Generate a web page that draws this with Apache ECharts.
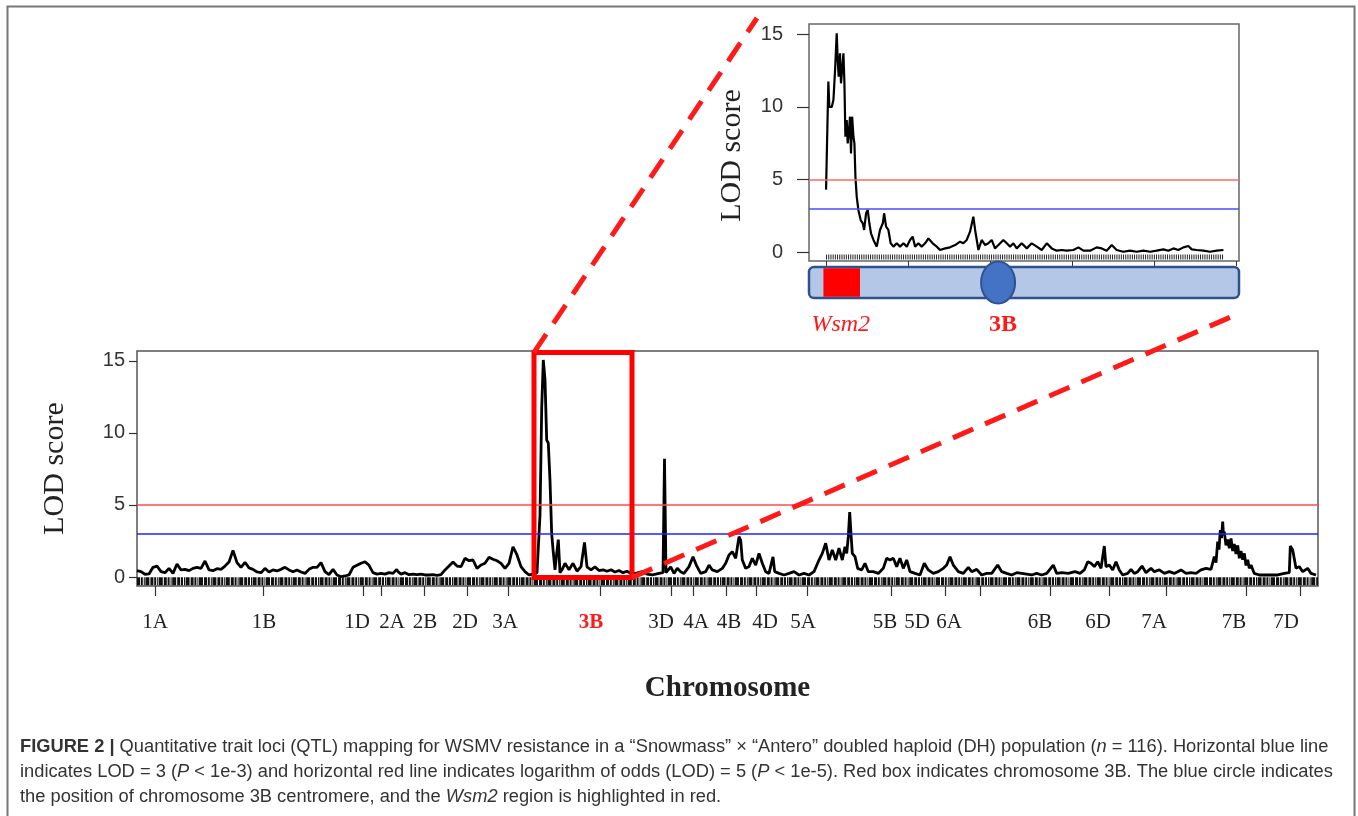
<!DOCTYPE html>
<html><head><meta charset="utf-8">
<script src="https://cdn.jsdelivr.net/npm/echarts@6/dist/echarts.min.js"></script>
<style>html,body{margin:0;padding:0;background:#fff}#c{width:1358px;height:816px}</style>
</head><body><div id="c"></div>
<script>
// ---------- data ----------
const chromNames = ['1A','1B','1D','2A','2B','2D','3A','3B','3D','4A','4B','4D','5A','5B','5D','6A','6B','6D','7A','7B','7D'];
const chromLabelPos = [18,127,220,255,288,328,368,454,524,559,592,628,666,748,780,812,903,961,1017,1097,1149];
const chromTickPos = [18,126,226,244,287,330,371,463,534,556,589,619,670,754,808,843,913,972,1029,1109,1163];
const lodTicks = [0, 5, 10, 15];
const thresholdRed = 5;
const thresholdBlue = 3;
const genomeLength = 1181;
const box3B = [397, 495];        // genome positions framed by the red box
const box3BLod = [-0.03, 15.59];
// genome-wide scan: [position, LOD]
const genomeScan = [
[0,0.44],[4,0.37],[8,0.19],[12,0.21],[16,0.67],[20,0.76],[24,0.37],[28,0.3],[32,0.6],[36,0.25],[40,0.9],[44,0.49],[48,0.53],[52,0.44],[56,0.6],[60,0.67],[64,0.6],[68,1.11],[72,0.49],[76,0.44],[80,0.58],[84,0.53],[88,0.76],[92,1.04],[96,1.85],[100,1.0],[104,0.67],[108,1.02],[112,0.63],[116,0.53],[120,0.35],[124,0.3],[128,0.6],[132,0.35],[136,0.49],[140,0.42],[144,0.53],[148,0.67],[152,0.49],[156,0.37],[160,0.49],[164,0.35],[168,0.25],[172,0.53],[176,0.67],[180,0.67],[184,1.0],[188,0.37],[192,0.16],[196,0.53],[200,0.14],[204,0.02],[208,0.07],[212,0.14],[216,0.67],[220,0.81],[224,0.95],[228,1.06],[232,0.81],
[236,0.3],[240,0.2],[244,0.25],[248,0.2],[252,0.3],[256,0.25],[259.7,0.53],[261,0.37],[264,0.2],[268,0.3],[272,0.16],[276,0.2],[280,0.16],[284,0.2],[288,0.14],[292,0.14],[296,0.16],[300,0.12],[304,0.16],[308,0.49],[312,0.76],[316,1.04],[320,0.76],[324,0.72],[328,1.3],[332,1.13],[336,1.18],[340,0.6],[344,0.83],[348,0.95],[352,1.37],[356,1.23],[360,1.13],[364,0.95],[368,0.6],[372,0.95],[376,2.1],[380,1.53],[384,0.72],[388,0.37],[392,0.14],[396,0.2],[400,0.3],[402,0.4],
[403,4.3],[404.7,11.7],[406.3,15.07],[408,13.7],[409.7,9.5],[411.3,9.3],[413,6.7],[414.7,3.0],[416.3,1.7],[418,0.5],[419.5,1.5],[421.3,2.6],[423,0.3],
[425,0.5],[428,0.95],[432,0.5],[436,0.95],[440,0.4],[444,0.72],[447.5,2.4],[450,0.7],[454,0.5],[458,0.7],[462,0.45],[466,0.5],[470,0.4],[474,0.5],[478,0.35],[482,0.45],[486,0.3],[490,0.4],[494,0.25],
[498.7,0.25],[505.3,0.37],[510,0.2],[515.3,0.14],[522,0.25],[526,0.3],[527.5,8.2],[529,0.3],[533.7,0.7],[537,0.25],[540.3,0.6],[543.7,0.37],[547,0.25],[552,0.72],[556,1.4],[559.3,0.83],[563.7,0.25],[568.7,0.37],[572,0.83],[575.3,0.49],[580.3,0.37],[585.3,0.6],[588.7,0.95],[592,1.53],[595.3,1.76],[598.7,1.3],[602,2.8],[603.7,2.55],[605.3,1.18],[608.7,0.6],[612,0.72],[615.3,1.3],[618.7,0.83],[622,1.64],[625.3,0.95],[628.7,0.37],[632,0.25],[636,1.4],[637.7,0.37],[642,0.25],[647,0.14],[652,0.25],[657,0.37],[662,0.14],[667,0.25],[672,0.14],[677,0.37],[682,1.18],[685.3,1.64],[688.7,2.34],[692,1.18],[695.3,1.87],[698.7,1.18],[702,2.0],[705.3,1.18],
[708,2.1],[709.7,1.64],[711.3,2.8],[712.7,4.5],[714,3.0],[715.3,1.64],[718,1.41],[720.7,0.6],[724.7,0.49],[728,0.95],[731.3,0.37],[736.3,0.37],[741.3,0.25],[746.3,0.6],[749.7,1.3],[753,1.18],[756.3,1.3],[759.7,0.72],[763,1.3],[766.3,0.6],[769.7,1.18],[773,0.37],[778,0.25],[783,0.14],[787.3,0.95],[791.3,0.49],[796.3,0.25],[801.3,0.37],[806.3,0.6],[809.7,0.83],[813,1.41],[816.3,0.83],[821.3,0.37],[826.3,0.25],[831.3,0.67],[834.7,0.37],[839.7,0.53],[844.7,0.14],[849.7,0.25],[854.7,0.25],[860.7,0.83],[864.7,0.37],[869.7,0.25],[874.7,0.14],[879.7,0.3],[884.7,0.25],[889.7,0.2],[894.7,0.14],[899.7,0.25],[904.7,0.14],[909.7,0.25],[916.3,0.83],[919.7,0.25],[924.7,0.3],[931.3,0.25],[938,0.37],[943,0.25],
[947.3,0.49],[950.7,1.06],[954,0.95],[957.3,0.72],[960.7,1.06],[964,0.6],[967.3,2.15],[969,0.72],[972.3,0.83],[975.7,0.49],[979,1.06],[982.3,0.49],[985.7,0.14],[990.7,0.25],[994,0.53],[997.3,0.25],[1000.7,0.37],[1005,0.76],[1009,0.3],[1014,0.6],[1017.3,0.37],[1022.3,0.49],[1027.3,0.25],[1032.3,0.37],[1037.3,0.25],[1044,0.49],[1049,0.25],[1054,0.3],[1059,0.25],[1064,0.49],[1069,0.6],[1074,0.53],
[1077.3,1.41],[1079,1.0],[1080.7,2.45],[1082,1.9],[1083.3,3.26],[1084.5,2.7],[1085.7,3.84],[1086.5,2.9],[1087.3,3.15],[1089,2.2],[1090.7,2.6],[1092.3,2.0],[1094,2.68],[1095.7,1.8],[1097.3,2.3],[1099,1.6],[1100.7,2.2],[1102.3,1.3],[1104,1.8],[1105.7,1.2],[1107.3,1.64],[1109,0.8],[1110.7,1.2],[1112.3,0.6],[1114,0.83],[1117.3,0.25],
[1122.3,0.14],[1127.3,0.14],[1134,0.14],[1140.7,0.14],[1147.3,0.25],[1152.3,0.3],[1153.3,2.15],[1155.7,1.87],[1159,0.6],[1162.3,0.72],[1165.7,0.37],[1170.7,0.6],[1174,0.25],[1179,0.14]
];
// chromosome 3B scan (inset): [position, LOD]
const chr3BScan = [
[0,4.3],[1.4,11.75],[2.0,10.0],[3.5,10.0],[4.5,10.5],[5.5,12.55],[6.5,15.08],[7.1,13.24],[7.7,12.09],[8.5,13.7],[9.1,11.63],[9.8,12.55],[10.6,13.7],[11.2,11.63],[11.8,7.95],[12.6,9.1],[13.2,7.49],[14.0,8.41],[14.6,9.33],[15.2,6.8],[15.9,9.33],[16.7,7.95],[17.3,7.49],[17.9,5.2],[18.7,3.82],[19.7,2.9],[21.1,2.2],[22.4,1.98],[23.2,1.52],[24.4,2.67],[25.4,2.9],[26.4,1.98],[27.4,1.29],[28.9,0.83],[30.9,0.37],[32.9,1.52],[34.6,1.98],[35.4,2.67],[36.6,1.75],[38.0,1.52],[39.4,0.6],[41.1,0.37],[43.1,0.6],[45.1,0.37],[47.2,0.6],[49.2,0.37],[51.2,0.83],[52.8,1.06],[54.3,0.37],[56.3,0.6],[58.3,0.37],[60.4,0.6],[62.4,0.94],[63.4,1.06],[65.0,0.6],[67.5,0.37],[69.5,0.14],[72.6,0.25],[75.6,0.32],[78.7,0.48],[81.7,0.71],[83.7,0.6],[85.8,0.83],[87.8,1.4],[89.8,2.44],[90.9,1.52],[91.9,0.83],[92.9,0.14],[94.9,0.83],[97.0,0.48],[99.0,0.6],[101.0,0.83],[103.0,0.25],[105.1,0.48],[108.1,0.83],[110.2,0.6],[112.2,0.37],[114.2,0.6],[116.3,0.25],[119.3,0.6],[122.4,0.25],[125.4,0.6],[128.5,0.37],[131.5,0.14],[134.6,0.6],[137.6,0.25],[140.7,0.09],[143.7,0.14],[146.7,0.09],[150.8,0.14],[153.9,0.32],[156.9,0.09],[161.0,0.09],[165.0,0.32],[168.1,0.25],[171.1,0.09],[174.2,0.48],[177.2,0.14],[181.3,0.02],[185.4,0.09],[189.4,0.02],[193.5,0.09],[197.6,0.02],[201.6,0.09],[205.7,0.18],[208.7,0.09],[211.8,0.25],[214.8,0.14],[217.9,0.32],[220.9,0.41],[223.0,0.18],[226.0,0.14],[230.1,0.09],[234.1,0.02],[238.2,0.09],[242.3,0.14]
];
const chr3BTicks = [0, 50, 100, 150, 200, 250];
const wsm2Region = [-1.6, 20.7];
const centromere3B = 104.9;

// ---------- chart ----------
const chart = echarts.init(document.getElementById('c'), null, {renderer: 'canvas'});
const serif = 'Liberation Serif';
const sans = 'Liberation Sans';

function lodYAxis(grid, min, max, gap, pad) {
  return {
    gridIndex: grid, type: 'value', min: min, max: max,
    axisLine: {show: false, onZero: false}, splitLine: {show: false},
    axisTick: {show: true, customValues: lodTicks, length: grid === 0 ? 8 : 12, lineStyle: {color: '#333', width: 1.2}},
    axisLabel: {customValues: lodTicks, margin: grid === 0 ? 12 : 26, fontFamily: sans, fontSize: 20, color: '#333'},
    name: 'LOD score', nameLocation: 'middle', nameRotate: 90, nameGap: gap, nameMoveOverlap: false,
    nameTextStyle: {fontFamily: serif, fontSize: 30, color: '#222', padding: pad}
  };
}

chart.setOption({
  animation: false,
  backgroundColor: '#fff',
  grid: [
    {left: 137, right: 40, top: 351, bottom: 230, show: true, borderColor: '#555', borderWidth: 1.5},
    {left: 809, right: 119, top: 24, bottom: 555, show: true, borderColor: '#666', borderWidth: 1.5}
  ],
  xAxis: [
    {gridIndex: 0, type: 'value', min: 0, max: genomeLength,
     axisLine: {show: false, onZero: false}, splitLine: {show: false},
     axisTick: {show: true, customValues: chromTickPos, length: 10, lineStyle: {color: '#333', width: 1.2}},
     axisLabel: {customValues: chromLabelPos, margin: 26, fontFamily: serif, fontSize: 21, color: '#222',
       formatter: function (v) {
         const i = chromLabelPos.indexOf(v);
         const n = i >= 0 ? chromNames[i] : '';
         return n === '3B' ? '{r|' + n + '}' : n;
       },
       rich: {r: {fontFamily: serif, fontSize: 21, fontWeight: 'bold', color: '#ff1a1a'}}},
     name: 'Chromosome', nameLocation: 'middle', nameGap: 88, nameMoveOverlap: false,
     nameTextStyle: {fontFamily: serif, fontSize: 29, fontWeight: 'bold', color: '#222'}},
    {gridIndex: 1, type: 'value', min: -10.4, max: 251.8,
     axisLine: {show: false, onZero: false}, splitLine: {show: false},
     axisTick: {show: true, customValues: chr3BTicks, length: 5, lineStyle: {color: '#333'}},
     axisLabel: {show: false}}
  ],
  yAxis: [lodYAxis(0, -0.625, 15.69, 67, [0, 0, 0, 0]), lodYAxis(1, -0.62, 15.72, 62, [0, 26, 0, 0])],
  series: [
    {type: 'line', xAxisIndex: 0, yAxisIndex: 0, data: [[0, -0.3], [genomeLength, -0.3]],
     symbol: 'none', silent: true, z: 1,
     lineStyle: {color: '#111', width: 8, type: [3, 0.8, 2, 1, 1, 0.6, 4, 1]}},
    {type: 'line', xAxisIndex: 0, yAxisIndex: 0, data: genomeScan, symbol: 'none',
     lineStyle: {color: '#000', width: 2.8}, z: 3,
     markLine: {silent: true, symbol: 'none', label: {show: false},
       data: [
         {yAxis: thresholdRed, lineStyle: {color: '#ff4a4a', width: 1.6, type: 'solid'}},
         {yAxis: thresholdBlue, lineStyle: {color: '#2222ff', width: 1.6, type: 'solid'}}
       ]},
     markArea: {silent: true, z: 10, itemStyle: {color: 'rgba(0,0,0,0)', borderColor: '#ff0000', borderWidth: 5},
       data: [[{xAxis: box3B[0], yAxis: box3BLod[0]}, {xAxis: box3B[1], yAxis: box3BLod[1]}]]}},
    {type: 'line', xAxisIndex: 1, yAxisIndex: 1, data: [[chr3BScan[0][0], -0.35], [chr3BScan[chr3BScan.length - 1][0], -0.35]],
     symbol: 'none', silent: true, z: 1,
     lineStyle: {color: '#222', width: 5, type: [1, 1.2]}},
    {type: 'line', xAxisIndex: 1, yAxisIndex: 1, data: chr3BScan, symbol: 'none',
     lineStyle: {color: '#000', width: 2.2}, z: 3,
     markLine: {silent: true, symbol: 'none', label: {show: false},
       data: [
         {yAxis: thresholdRed, lineStyle: {color: '#ff6a6a', width: 1.6, type: 'solid'}},
         {yAxis: thresholdBlue, lineStyle: {color: '#4a4aff', width: 1.6, type: 'solid'}}
       ]}}
  ]
});

// ---------- annotations ----------
const m = (x, y) => chart.convertToPixel({gridIndex: 0}, [x, y]);
const s = (x, y) => chart.convertToPixel({gridIndex: 1}, [x, y]);
const boxTL = m(box3B[0], box3BLod[1]);
const boxBR = m(box3B[1], box3BLod[0]);
const gridL = s(-10.4, 0)[0], gridR = s(251.8, 0)[0];
const barTop = 267, barH = 31;
const wL = s(wsm2Region[0], 0)[0], wR = s(wsm2Region[1], 0)[0];
const cen = s(centromere3B, 0)[0];
const dash = {stroke: '#ff1a1a', lineWidth: 5, lineDash: [22, 13]};
const cf = 18.3;
const capStyle = {fontFamily: sans, fontSize: cf, fill: '#333',
  rich: {b: {fontFamily: sans, fontSize: cf, fontWeight: 'bold', fill: '#333'},
         i: {fontFamily: sans, fontSize: cf, fontStyle: 'italic', fill: '#333'}}};

chart.setOption({
  graphic: [
    {type: 'rect', shape: {x: 7.5, y: 6.5, width: 1347, height: 830}, style: {fill: 'none', stroke: '#777', lineWidth: 2}, silent: true, z: 0},
    {type: 'line', shape: {x1: boxTL[0], y1: boxTL[1], x2: 757, y2: 18}, style: dash, z: 100},
    {type: 'line', shape: {x1: boxBR[0], y1: boxBR[1], x2: 1240, y2: 313}, style: dash, z: 100},
    {type: 'rect', shape: {x: gridL, y: barTop, width: gridR - gridL, height: barH, r: 5},
     style: {fill: '#b4c7e7', stroke: '#2f528f', lineWidth: 2.5}, z: 50},
    {type: 'rect', shape: {x: wL, y: barTop + 1.2, width: wR - wL, height: barH - 2.4},
     style: {fill: '#ff0000'}, z: 51},
    {type: 'ellipse', shape: {cx: cen, cy: barTop + barH / 2, rx: 17, ry: 21},
     style: {fill: '#4472c4', stroke: '#2f528f', lineWidth: 2}, z: 52},
    {type: 'text', x: (wL + wR) / 2 - 1, y: 325, z: 52,
     style: {text: 'Wsm2', fontFamily: serif, fontStyle: 'italic', fontSize: 24, fill: '#ff1a1a', align: 'center', verticalAlign: 'middle'}},
    {type: 'text', x: cen + 5, y: 325, z: 52,
     style: {text: '3B', fontFamily: serif, fontWeight: 'bold', fontSize: 24, fill: '#ff1a1a', align: 'center', verticalAlign: 'middle'}},
    {type: 'text', x: 20, y: 747, z: 60, style: Object.assign({}, capStyle, {verticalAlign: 'middle',
      text: '{b|FIGURE 2 |} Quantitative trait loci (QTL) mapping for WSMV resistance in a \u201cSnowmass\u201d \u00d7 \u201cAntero\u201d doubled haploid (DH) population ({i|n} = 116). Horizontal blue line'})},
    {type: 'text', x: 20, y: 772, z: 60, style: Object.assign({}, capStyle, {verticalAlign: 'middle',
      text: 'indicates LOD = 3 ({i|P} < 1e-3) and horizontal red line indicates logarithm of odds (LOD) = 5 ({i|P} < 1e-5). Red box indicates chromosome 3B. The blue circle indicates'})},
    {type: 'text', x: 20, y: 797, z: 60, style: Object.assign({}, capStyle, {verticalAlign: 'middle',
      text: 'the position of chromosome 3B centromere, and the {i|Wsm2} region is highlighted in red.'})}
  ]
});
</script>
</body></html>
